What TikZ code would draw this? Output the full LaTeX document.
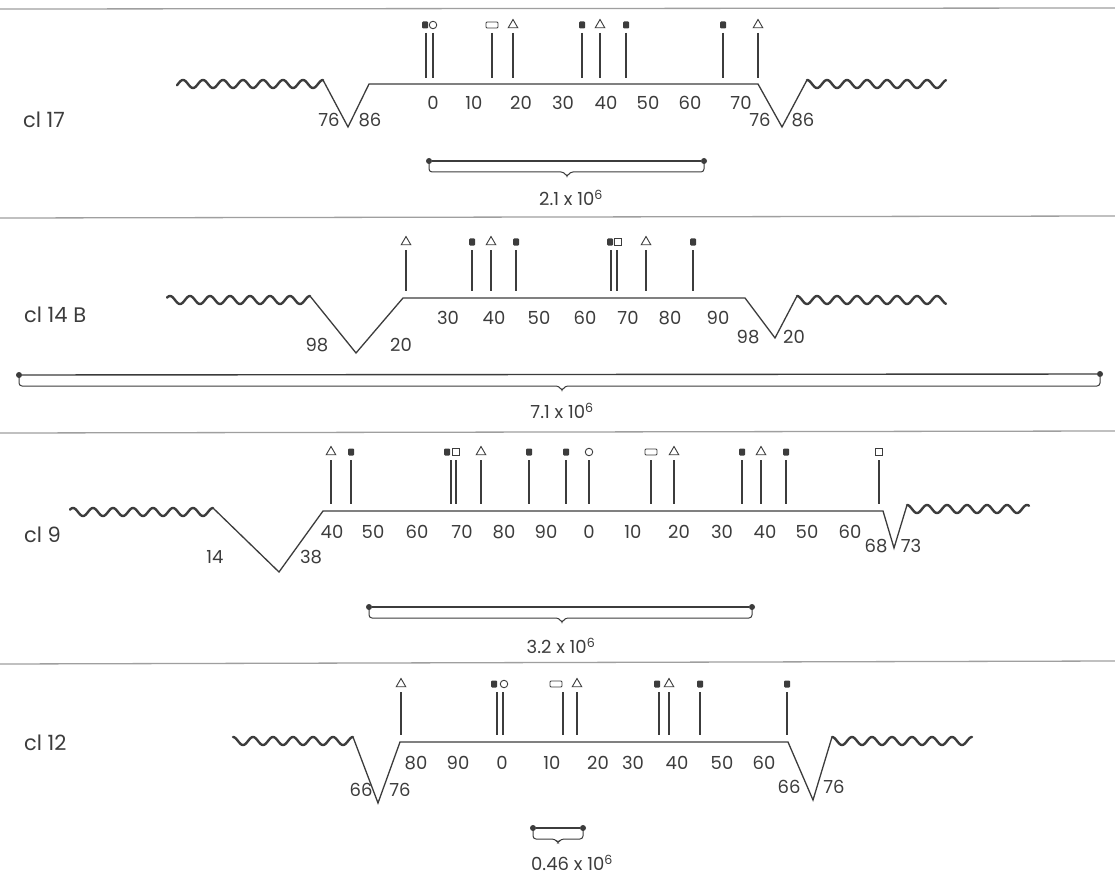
\documentclass[tikz,border=0pt]{standalone}
\usepackage{fontspec}
\setmainfont{Poppins}
\usetikzlibrary{shapes.geometric}
\definecolor{ink}{HTML}{3C3C3C}
\newcommand\wavL[3]{\draw[wave] plot[domain=#1:#2, samples=160, smooth] (\x, {#3 - 4*cos(18*(#2-\x))});}
\newcommand\wavR[3]{\draw[wave] plot[domain=#1:#2, samples=160, smooth] (\x, {#3 - 4*cos(18*(\x-#1))});}
\newcommand\markers[4]{\foreach \st/\xs/\xl in {#4} {\node[\st] (m#1-\xs) at (\xs,#1) {}; \draw[tick] (\xl,#2) -- (\xl,#3);}}
\newcommand\nums[2]{\foreach \t/\xx in {#2} {\node[num] (n#1-\xx) at (\xx,#1) {\t};}}
\begin{document}
\begin{tikzpicture}[x=1pt,y=-1pt,
 wave/.style={draw=ink, line width=2.4pt, line cap=round},
 line/.style={draw=ink, line width=1.3pt, line join=miter},
 tick/.style={draw=ink, line width=1.1pt},
 sep/.style={draw=gray!75, line width=1.3pt},
 num/.style={text=ink, font=\fontsize{18}{18}\selectfont, inner sep=0},
 lab/.style={text=ink, font=\fontsize{21}{21}\selectfont, inner sep=0, anchor=west},
 size/.style={text=ink, font=\fontsize{18}{18}\selectfont, inner sep=0},
 fsq/.style={fill=ink, rounded corners=1pt, minimum width=6pt, minimum height=7pt, inner sep=0},
 osq/.style={draw=ink, line width=0.9pt, minimum width=7pt, minimum height=7.5pt, inner sep=0},
 ocirc/.style={circle, draw=ink, line width=0.9pt, minimum size=7.5pt, inner sep=0},
 orect/.style={draw=ink, line width=0.9pt, rounded corners=1pt, minimum width=12pt, minimum height=6pt, inner sep=0},
 tri/.style={regular polygon, regular polygon sides=3, draw=ink, line width=0.9pt, minimum size=11pt, inner sep=0},
 dot/.style={circle, fill=ink, minimum size=6pt, inner sep=0},
 bar/.style={draw=ink, line width=1.4pt},
 brace/.style={draw=ink, line width=1pt, rounded corners=3pt}]
\useasboundingbox (0,0) rectangle (1115,893);
\fill[white] (0,0) rectangle (1115,893);
% separators
\draw[sep] (0,9) -- (1115,8);
\draw[sep] (0,218) -- (1115,216);
\draw[sep] (0,433) -- (1115,431);
\draw[sep] (0,664) -- (1115,661);

% ---------- panel cl 17 ----------
\node[lab] (l1) at (23,120) {cl 17};
\wavL{177}{323}{84}
\draw[line] (323,80) -- (348,127) -- (369,84) -- (758,84) -- (782,127) -- (807,80);
\wavR{807}{946}{84}
\node[num] (a1) at (329,120) {76};
\node[num] (b1) at (370,120) {86};
\node[num] (c1) at (760,120) {76};
\node[num] (d1) at (803,120) {86};
\nums{103}{0/433,10/474,20/521,30/563,40/606,50/648,60/690,70/741}
\markers{25}{33}{78}{fsq/425/426,ocirc/433/433,orect/492/492,tri/513/513,fsq/582/582,tri/600/600,fsq/626/626,fsq/723/723,tri/758/758}
\node[dot] (p1) at (429,161) {};
\node[dot] (q1) at (704,161) {};
\draw[bar] (p1) -- (q1);
\draw[brace] (429,163) -- (429,172) -- (564,172) -- (567,177) -- (570,172) -- (704,172) -- (704,163);
\node[size] (s1) at (571,198) {2.1 x 10\textsuperscript{6}};

% ---------- panel cl 14 B ----------
\node[lab] (l2) at (24,315) {cl 14 B};
\wavL{167}{310}{300}
\draw[line] (310,296) -- (356,353) -- (403,298) -- (745,298) -- (775,338) -- (797,296);
\wavR{797}{946}{300}
\node[num] (a2) at (317,345) {98};
\node[num] (b2) at (401,345) {20};
\node[num] (c2) at (748,337) {98};
\node[num] (d2) at (794,337) {20};
\nums{318}{30/448,40/494,50/539,60/585,70/628,80/670,90/718}
\markers{242}{250}{291}{tri/406/406,fsq/472/472,tri/491/491,fsq/516/516,fsq/610/611,osq/618/617,tri/646/646,fsq/693/693}
\node[dot] (p2) at (19,375) {};
\node[dot] (q2) at (1100,374) {};
\draw[bar] (p2) -- (q2);
\draw[brace] (19,377) -- (19,386) -- (559,386) -- (562,391) -- (565,386) -- (1100,386) -- (1100,377);
\node[size] (s2) at (562,411) {7.1 x 10\textsuperscript{6}};

% ---------- panel cl 9 ----------
\node[lab] (l3) at (24,535) {cl 9};
\wavL{70}{213}{512}
\draw[line] (213,508) -- (279,572) -- (323,511) -- (883,511) -- (894,548) -- (907,505);
\wavR{907}{1029}{509}
\node[num] (a3) at (215,557) {14};
\node[num] (b3) at (311,557) {38};
\node[num] (c3) at (876,546) {68};
\node[num] (d3) at (911,546) {73};
\nums{532}{40/332,50/373,60/417,70/462,80/504,90/546,0/589,10/633,20/679,30/722,40/765,50/807,60/850}
\markers{452}{460}{504}{tri/331/331,fsq/351/351,fsq/447/451,osq/456/456,tri/481/481,fsq/529/529,fsq/566/566,ocirc/589/589,orect/651/651,tri/674/674,fsq/742/742,tri/761/761,fsq/786/786,osq/879/879}
\node[dot] (p3) at (369,607) {};
\node[dot] (q3) at (752,607) {};
\draw[bar] (p3) -- (q3);
\draw[brace] (369,609) -- (369,618) -- (559,618) -- (562,623) -- (565,618) -- (752,618) -- (752,609);
\node[size] (s3) at (561,646) {3.2 x 10\textsuperscript{6}};

% ---------- panel cl 12 ----------
\node[lab] (l4) at (24,743) {cl 12};
\wavL{233}{353}{741}
\draw[line] (353,737) -- (378,803) -- (400,742) -- (788,742) -- (813,800) -- (832,737);
\wavR{832}{972}{741}
\node[num] (a4) at (361,790) {66};
\node[num] (b4) at (400,790) {76};
\node[num] (c4) at (789,787) {66};
\node[num] (d4) at (834,787) {76};
\nums{763}{80/416,90/458,0/502,10/552,20/598,30/633,40/677,50/722,60/764}
\markers{684}{692}{735}{tri/401/401,fsq/494/497,ocirc/504/503,orect/556/563,tri/577/577,fsq/657/659,tri/669/669,fsq/700/700,fsq/787/787}
\node[dot] (p4) at (533,828) {};
\node[dot] (q4) at (583,828) {};
\draw[bar] (p4) -- (q4);
\draw[brace] (533,830) -- (533,839) -- (555,839) -- (558,843) -- (561,839) -- (583,839) -- (583,830);
\node[size] (s4) at (572,863) {0.46 x 10\textsuperscript{6}};
\end{tikzpicture}
\end{document}
